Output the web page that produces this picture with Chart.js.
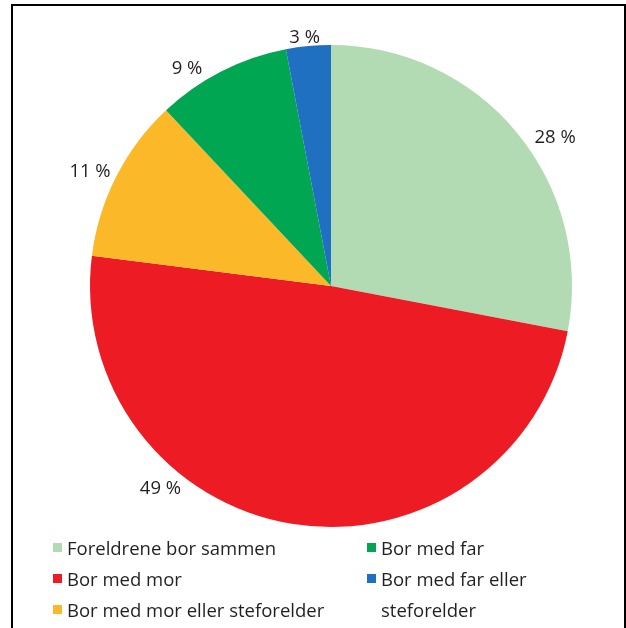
<!DOCTYPE html>
<html>
<head>
<meta charset="utf-8">
<script src="https://cdn.jsdelivr.net/npm/chart.js@4/dist/chart.umd.min.js"></script>
<style>
  html, body { margin: 0; padding: 0; background: #fff; }
  #wrap { position: relative; width: 626px; height: 628px; overflow: hidden; }
  #frame { position: absolute; left: 11px; top: 4px; width: 615px; height: 640px; border: 2px solid #000; box-sizing: border-box; pointer-events: none; }
  #c { position: absolute; left: 0; top: 0; }
  .leg { position: absolute; font-family: "Open Sans", sans-serif; font-size: 18.5px; color: #231f20; line-height: 31px; white-space: nowrap; }
  .leg .sw { position: absolute; width: 9px; height: 9px; }
</style>
</head>
<body>
<div id="wrap">
  <canvas id="c" width="626" height="628"></canvas>
  <div id="legend"></div>
  <div id="frame"></div>
</div>
<script>
const categories = ["Foreldrene bor sammen", "Bor med mor", "Bor med mor eller steforelder", "Bor med far", "Bor med far eller steforelder"];
const legendLines = [["Foreldrene bor sammen"], ["Bor med mor"], ["Bor med mor eller steforelder"], ["Bor med far"], ["Bor med far eller", "steforelder"]];
const values = [28, 49, 11, 9, 3];
const valueLabels = ["28 %", "49 %", "11 %", "9 %", "3 %"];
const colors = ["#b2dbb4", "#ed1c24", "#fbb829", "#00a651", "#1f70c0"];

// label placement within each slice (fraction of slice angle, radius factor)
const labelFrac = [0.56, 0.676, 0.457, 0.30, 0.44];
const labelRad = [1.116, 1.10, 1.106, 1.083, 1.037];

const labelPlugin = {
  id: 'outLabels',
  afterDatasetsDraw(chart) {
    const ctx = chart.ctx;
    const meta = chart.getDatasetMeta(0);
    ctx.save();
    ctx.font = '18.5px "Open Sans", sans-serif';
    ctx.fillStyle = '#231f20';
    ctx.textAlign = 'center';
    ctx.textBaseline = 'middle';
    meta.data.forEach((arc, i) => {
      const p = arc.getProps(['x', 'y', 'startAngle', 'endAngle', 'outerRadius'], true);
      const a = p.startAngle + labelFrac[i] * (p.endAngle - p.startAngle);
      const r = p.outerRadius * labelRad[i];
      ctx.fillText(valueLabels[i], p.x + Math.cos(a) * r, p.y + Math.sin(a) * r);
    });
    ctx.restore();
  }
};

new Chart(document.getElementById('c'), {
  type: 'pie',
  data: {
    labels: categories,
    datasets: [{ data: values, backgroundColor: colors, borderWidth: 0 }]
  },
  options: {
    responsive: false,
    animation: false,
    layout: { padding: { left: 90, right: 54, top: 45, bottom: 101 } },
    plugins: { legend: { display: false }, tooltip: { enabled: false } }
  },
  plugins: [labelPlugin]
});

// HTML legend (two columns, as in the reference)
const legendOrder = [
  { i: 0, x: 53, y: 532 }, { i: 3, x: 367, y: 532 },
  { i: 1, x: 53, y: 563 }, { i: 4, x: 367, y: 563 },
  { i: 2, x: 53, y: 594 }
];
const legEl = document.getElementById('legend');
legendOrder.forEach(o => {
  const d = document.createElement('div');
  d.className = 'leg';
  d.style.left = (o.x + 14) + 'px';
  d.style.top = o.y + 'px';
  legendLines[o.i].forEach((t, k) => {
    if (k > 0) d.appendChild(document.createElement('br'));
    d.appendChild(document.createTextNode(t));
  });
  const s = document.createElement('div');
  s.className = 'sw';
  s.style.background = colors[o.i];
  s.style.left = '-14px';
  s.style.top = '11px';
  d.appendChild(s);
  legEl.appendChild(d);
});
</script>
</body>
</html>
